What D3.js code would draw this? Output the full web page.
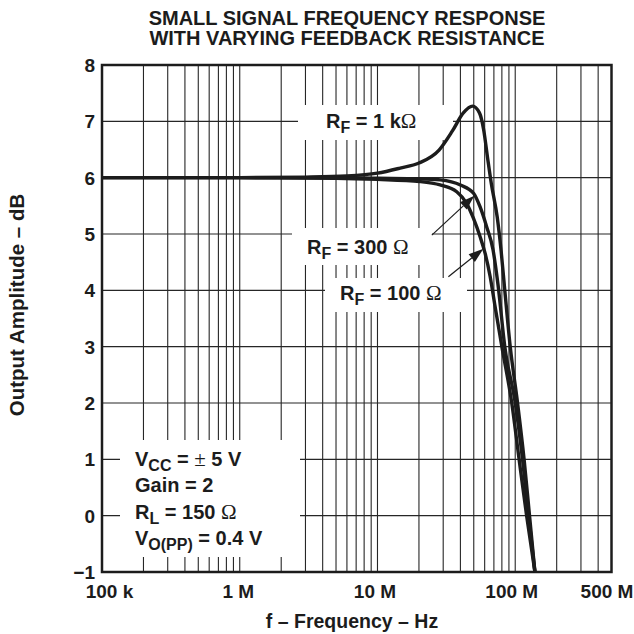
<!DOCTYPE html>
<html><head><meta charset="utf-8">
<script src="https://cdn.jsdelivr.net/npm/d3@7"></script>
<style>body{margin:0;background:#fff}svg{display:block}</style>
</head><body><svg id="c" width="634" height="634"></svg>
<script>
// ---- data ----
const xTickValues = [1e5, 1e6, 1e7, 1e8, 5e8];
const xTickLabels = ["100 k", "1 M", "10 M", "100 M", "500 M"];
const yTickValues = [-1, 0, 1, 2, 3, 4, 5, 6, 7, 8];
const yTickLabels = ["\u22121", "0", "1", "2", "3", "4", "5", "6", "7", "8"];

const freqMHz_RF1k = [0.1, 0.3, 1, 3, 6, 10, 14.6, 20, 28, 35, 42, 49, 55, 59, 63, 67, 74, 79, 84, 92, 104, 116, 127, 139];
const gain_RF1k    = [6.0, 6.0, 6.0, 6.01, 6.03, 6.08, 6.17, 6.26, 6.49, 6.83, 7.15, 7.27, 7.15, 6.85, 6.35, 5.9, 5.3, 4.7, 4.0, 3.0, 2.0, 1.0, 0, -1];

const freqMHz_RF300 = [0.1, 1, 5, 10, 20, 28.5, 40, 50, 55.6, 62, 69, 75, 84, 100, 113, 125, 139];
const gain_RF300    = [6.0, 6.0, 6.0, 5.99, 5.98, 5.96, 5.87, 5.72, 5.48, 5.13, 4.72, 4.1, 3.0, 2.0, 1.0, 0, -1];

const freqMHz_RF100 = [0.1, 1, 5, 10, 20.4, 28.5, 37.6, 44.5, 49.7, 55.6, 60.4, 65.7, 71, 80, 94.4, 106.7, 121, 139];
const gain_RF100    = [6.0, 6.0, 5.99, 5.97, 5.93, 5.87, 5.75, 5.54, 5.28, 4.95, 4.66, 4.25, 3.75, 3.0, 2.0, 1.0, 0, -1];

// arrows: [fromMHz, fromdB, toMHz, todB]
const arrow300 = [24.8, 4.98, 50.5, 5.68];
const arrow100 = [32.7, 4.24, 58.8, 4.74];

// ---- layout ----
const L = 102, R = 611.5, T = 65, B = 572;
const svg = d3.select("#c");
const ink = "#1c1c1c";
const font = "'Liberation Sans', Arial, Helvetica, sans-serif";

const x = d3.scaleLog().domain([1e5, 5e8]).range([L, R]);
const y = d3.scaleLinear().domain([-1, 8]).range([B, T]);

// grid
const vLines = [];
for (let d = 1e5; d <= 1e8; d *= 10) for (let m = 1; m <= 9; m++) { const v = d * m; if (v > 1e5 && v < 5e8) vLines.push(v); }
const grid = svg.append("g").attr("stroke", "#262626").attr("stroke-width", 1.1);
grid.selectAll("line.v").data(vLines).join("line")
  .attr("x1", d => x(d)).attr("x2", d => x(d)).attr("y1", T).attr("y2", B);
grid.selectAll("line.h").data(yTickValues.slice(1, -1)).join("line")
  .attr("x1", L).attr("x2", R).attr("y1", d => y(d)).attr("y2", d => y(d));

// label backgrounds
const boxes = [[298, 105, 453, 140], [292, 228, 432, 265], [325, 278, 467, 312], [120, 440, 300, 557]];
svg.append("g").selectAll("rect").data(boxes).join("rect")
  .attr("x", d => d[0]).attr("y", d => d[1]).attr("width", d => d[2] - d[0]).attr("height", d => d[3] - d[1])
  .attr("fill", "#fff");

// frame
svg.append("rect").attr("x", L).attr("y", T).attr("width", R - L).attr("height", B - T)
  .attr("fill", "none").attr("stroke", ink).attr("stroke-width", 2.5);

// curves
const line = d3.line().x(d => x(d[0] * 1e6)).y(d => y(d[1])).curve(d3.curveMonotoneX);
const series = [
  [freqMHz_RF1k, gain_RF1k],
  [freqMHz_RF300, gain_RF300],
  [freqMHz_RF100, gain_RF100]
];
svg.append("g").selectAll("path").data(series).join("path")
  .attr("d", s => line(s[0].map((f, i) => [f, s[1][i]])))
  .attr("fill", "none").attr("stroke", ink).attr("stroke-width", 3.4).attr("stroke-linejoin", "round");

// arrows
function drawArrow(a) {
  const x1 = x(a[0] * 1e6), y1 = y(a[1]), x2 = x(a[2] * 1e6), y2 = y(a[3]);
  const ang = Math.atan2(y2 - y1, x2 - x1);
  const len = 15, w = 5;
  const bx = x2 - len * Math.cos(ang), by = y2 - len * Math.sin(ang);
  svg.append("line").attr("x1", x1).attr("y1", y1).attr("x2", bx).attr("y2", by)
    .attr("stroke", ink).attr("stroke-width", 1.2);
  const px = -Math.sin(ang), py = Math.cos(ang);
  svg.append("path").attr("d", `M${x2},${y2}L${bx + px * w},${by + py * w}L${bx - px * w},${by - py * w}Z`).attr("fill", ink);
}
drawArrow(arrow300);
drawArrow(arrow100);

// axes tick labels
const xLabelShift = [7, -2, -3, -4, -5];
const xAxis = d3.axisBottom(x).tickValues(xTickValues).tickFormat((d, i) => xTickLabels[i]).tickSize(0).tickPadding(0);
const gx = svg.append("g").attr("transform", `translate(0,${B + 26})`).call(xAxis);
gx.select(".domain").remove();
gx.selectAll("text").attr("font-family", font).attr("font-weight", "bold").attr("font-size", 19).attr("fill", ink)
  .attr("dy", 0).attr("dx", (d, i) => xLabelShift[i]);

const yAxis = d3.axisLeft(y).tickValues(yTickValues).tickFormat((d, i) => yTickLabels[i]).tickSize(0).tickPadding(0);
const gy = svg.append("g").attr("transform", `translate(95,0)`).call(yAxis);
gy.select(".domain").remove();
gy.selectAll("text").attr("font-family", font).attr("font-weight", "bold").attr("font-size", 19).attr("fill", ink).attr("dy", "0.34em");

// text helpers
function rich(xp, yp, parts) {
  const t = svg.append("text").attr("x", xp).attr("y", yp).attr("font-family", font)
    .attr("font-weight", "bold").attr("font-size", 20).attr("fill", ink);
  let shift = 0;
  parts.forEach(p => {
    const s = t.append("tspan").text(p.t);
    const target = p.sub ? 5 : 0;
    if (target !== shift) { s.attr("dy", target - shift); shift = target; }
    if (p.sub) s.attr("font-size", 16);
    if (p.sym) s.attr("font-family", "'Liberation Serif', 'Times New Roman', serif").attr("font-weight", "normal").attr("font-size", 21);
  });
  return t;
}
rich(326, 128, [{t: "R"}, {t: "F", sub: true}, {t: " = 1 k"}, {t: "\u03A9", sym: true}]);
rich(307, 254, [{t: "R"}, {t: "F", sub: true}, {t: " = 300 "}, {t: "\u03A9", sym: true}]);
rich(340, 300, [{t: "R"}, {t: "F", sub: true}, {t: " = 100 "}, {t: "\u03A9", sym: true}]);

rich(135, 466, [{t: "V"}, {t: "CC", sub: true}, {t: " = "}, {t: "\u00B1", sym: true}, {t: " 5 V"}]);
rich(135, 492, [{t: "Gain = 2"}]);
rich(135, 519, [{t: "R"}, {t: "L", sub: true}, {t: " = 150 "}, {t: "\u03A9", sym: true}]);
rich(135, 545, [{t: "V"}, {t: "O(PP)", sub: true}, {t: " = 0.4 V"}]);

// titles
svg.append("text").attr("x", 347).attr("y", 25).attr("text-anchor", "middle").attr("font-family", font)
  .attr("font-weight", "bold").attr("font-size", 20).attr("fill", ink).text("SMALL SIGNAL FREQUENCY RESPONSE");
svg.append("text").attr("x", 347).attr("y", 45).attr("text-anchor", "middle").attr("font-family", font)
  .attr("font-weight", "bold").attr("font-size", 20).attr("fill", ink).text("WITH VARYING FEEDBACK RESISTANCE");

svg.append("text").attr("x", 352).attr("y", 628).attr("text-anchor", "middle").attr("font-family", font)
  .attr("font-weight", "bold").attr("font-size", 19.5).attr("fill", ink).text("f \u2013 Frequency \u2013 Hz");
svg.append("text").attr("transform", "translate(24,305) rotate(-90)").attr("text-anchor", "middle").attr("font-family", font)
  .attr("font-weight", "bold").attr("font-size", 20.5).attr("fill", ink).text("Output Amplitude \u2013 dB");
</script></body></html>
